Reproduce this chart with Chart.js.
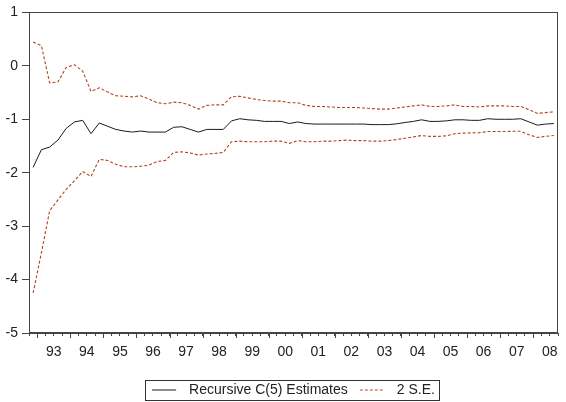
<!DOCTYPE html>
<html>
<head>
<meta charset="utf-8">
<script src="https://cdn.jsdelivr.net/npm/chart.js@4.4.1/dist/chart.umd.min.js"></script>
<style>
html,body{margin:0;padding:0;background:#ffffff;}
#wrap{width:566px;height:402px;}
</style>
</head>
<body>
<div id="wrap"><canvas id="c" width="566" height="402"></canvas></div>
<script>
const quarters = [
  "1992Q4",
  "1993Q1","1993Q2","1993Q3","1993Q4",
  "1994Q1","1994Q2","1994Q3","1994Q4",
  "1995Q1","1995Q2","1995Q3","1995Q4",
  "1996Q1","1996Q2","1996Q3","1996Q4",
  "1997Q1","1997Q2","1997Q3","1997Q4",
  "1998Q1","1998Q2","1998Q3","1998Q4",
  "1999Q1","1999Q2","1999Q3","1999Q4",
  "2000Q1","2000Q2","2000Q3","2000Q4",
  "2001Q1","2001Q2","2001Q3","2001Q4",
  "2002Q1","2002Q2","2002Q3","2002Q4",
  "2003Q1","2003Q2","2003Q3","2003Q4",
  "2004Q1","2004Q2","2004Q3","2004Q4",
  "2005Q1","2005Q2","2005Q3","2005Q4",
  "2006Q1","2006Q2","2006Q3","2006Q4",
  "2007Q1","2007Q2","2007Q3","2007Q4",
  "2008Q1","2008Q2","2008Q3"
];

const estimates = [
  -1.90,
  -1.57,-1.52,-1.39,-1.17,
  -1.05,-1.02,-1.27,-1.07,
  -1.13,-1.19,-1.22,-1.24,
  -1.22,-1.24,-1.24,-1.24,
  -1.15,-1.14,-1.19,-1.24,
  -1.19,-1.19,-1.19,-1.03,
  -0.99,-1.01,-1.02,-1.04,
  -1.04,-1.04,-1.08,-1.05,
  -1.08,-1.09,-1.09,-1.09,
  -1.09,-1.09,-1.09,-1.09,
  -1.10,-1.10,-1.10,-1.085,
  -1.06,-1.04,-1.01,-1.04,
  -1.04,-1.03,-1.01,-1.01,
  -1.02,-1.02,-0.99,-1.00,
  -1.00,-1.00,-0.99,-1.05,
  -1.11,-1.09,-1.08
];

const upperBand = [
  0.445,
  0.377,-0.32,-0.30,-0.03,
  0.02,-0.10,-0.48,-0.41,
  -0.49,-0.56,-0.57,-0.58,
  -0.56,-0.62,-0.69,-0.71,
  -0.68,-0.69,-0.74,-0.81,
  -0.74,-0.73,-0.73,-0.58,
  -0.57,-0.60,-0.63,-0.65,
  -0.66,-0.66,-0.69,-0.69,
  -0.74,-0.76,-0.76,-0.77,
  -0.78,-0.78,-0.78,-0.79,
  -0.80,-0.81,-0.81,-0.79,
  -0.77,-0.75,-0.73,-0.76,
  -0.76,-0.75,-0.73,-0.76,
  -0.76,-0.77,-0.75,-0.75,
  -0.75,-0.76,-0.76,-0.82,
  -0.89,-0.875,-0.86
];

const lowerBand = [
  -4.25,
  -3.50,-2.71,-2.51,-2.31,
  -2.15,-1.98,-2.07,-1.75,
  -1.77,-1.84,-1.89,-1.89,
  -1.88,-1.86,-1.79,-1.77,
  -1.62,-1.61,-1.63,-1.67,
  -1.65,-1.64,-1.62,-1.42,
  -1.41,-1.42,-1.42,-1.42,
  -1.41,-1.41,-1.45,-1.40,
  -1.42,-1.42,-1.41,-1.41,
  -1.40,-1.39,-1.40,-1.40,
  -1.41,-1.41,-1.40,-1.38,
  -1.355,-1.33,-1.305,-1.32,
  -1.32,-1.31,-1.27,-1.26,
  -1.255,-1.25,-1.23,-1.23,
  -1.23,-1.225,-1.225,-1.29,
  -1.34,-1.32,-1.305
];

const yearLabels = ["93","94","95","96","97","98","99","00","01","02","03","04","05","06","07","08"];
const yTicks = [-5,-4,-3,-2,-1,0,1];

const FONT = {family: "'Liberation Sans', Arial, Helvetica, sans-serif", size: 14};
const AXIS_COLOR = '#444444';
const TEXT_COLOR = '#222222';
const LINE_COLOR = '#1a1a1a';
const BAND_COLOR = '#b0461e';
const BAND_DASH = [3, 2];
const LEGEND_SHIFT = 13;

const toPoints = arr => arr.map((v, i) => ({x: i, y: v}));

function legendIcon(color, dash) {
  const c = document.createElement('canvas');
  c.width = 30; c.height = 3;
  const g = c.getContext('2d');
  g.strokeStyle = color;
  g.lineWidth = 1;
  g.setLineDash(dash);
  g.beginPath();
  g.moveTo(0, 1.5);
  g.lineTo(24, 1.5);
  g.stroke();
  return c;
}

const frameAndTicks = {
  id: 'frameAndTicks',
  afterDraw(chart) {
    const ctx = chart.ctx;
    const a = chart.chartArea;
    const xs = chart.scales.x;
    ctx.save();
    ctx.strokeStyle = AXIS_COLOR;
    ctx.lineWidth = 1;
    ctx.setLineDash([]);
    ctx.strokeRect(Math.round(a.left) + 0.5, Math.round(a.top) + 0.5,
                   Math.round(a.right - a.left) - 1, Math.round(a.bottom - a.top) - 1);
    ctx.beginPath();
    quarters.forEach((q, i) => {
      if (q.endsWith('Q1')) {
        const px = Math.round(xs.getPixelForValue(i - 0.5)) + 0.5;
        ctx.moveTo(px, a.bottom);
        ctx.lineTo(px, a.bottom + 5);
      }
    });
    ctx.stroke();
    const lg = chart.legend;
    if (lg && lg.legendHitBoxes && lg.legendHitBoxes.length) {
      const hb = lg.legendHitBoxes;
      const left = Math.min(...hb.map(h => h.left));
      const right = Math.max(...hb.map(h => h.left + h.width));
      const cy = hb[0].top + hb[0].height / 2;
      ctx.strokeStyle = '#333333';
      ctx.strokeRect(Math.round(left - 7) + 0.5, Math.round(cy - 10) + 0.5,
                     Math.round(right - left + 11), 20);
    }
    ctx.restore();
  }
};

const legendLayout = {
  id: 'legendLayout',
  beforeInit(chart) {
    const orig = chart.legend.fit;
    chart.legend.fit = function () {
      orig.call(this);
      this.height = 31;
    };
  },
  afterLayout(chart) {
    const lg = chart.legend;
    if (lg) { lg.left += LEGEND_SHIFT; lg.right += LEGEND_SHIFT; }
  }
};

const icons = [legendIcon(LINE_COLOR, []), legendIcon(BAND_COLOR, BAND_DASH)];

new Chart(document.getElementById('c'), {
  type: 'line',
  data: {
    datasets: [
      {
        label: 'Recursive C(5) Estimates',
        data: toPoints(estimates),
        borderColor: LINE_COLOR,
        borderWidth: 1,
        pointRadius: 0,
        tension: 0,
        fill: false
      },
      {
        label: '2 S.E.',
        data: toPoints(upperBand),
        borderColor: BAND_COLOR,
        borderWidth: 1.1,
        borderDash: BAND_DASH,
        pointRadius: 0,
        tension: 0,
        fill: false
      },
      {
        label: '2 S.E. (lower)',
        data: toPoints(lowerBand),
        borderColor: BAND_COLOR,
        borderWidth: 1.1,
        borderDash: BAND_DASH,
        pointRadius: 0,
        tension: 0,
        fill: false
      }
    ]
  },
  options: {
    responsive: false,
    animation: false,
    devicePixelRatio: 1,
    layout: {padding: {top: 12, right: 5, left: 0, bottom: 0}},
    scales: {
      x: {
        type: 'linear',
        min: -0.5,
        max: quarters.length - 0.5,
        afterBuildTicks: s => {
          s.ticks = quarters.map((q, i) => ({value: i - 0.5}))
            .concat([{value: quarters.length - 0.5}]);
        },
        afterFit: s => { s.height = 38; },
        ticks: {
          autoSkip: false,
          maxRotation: 0,
          minRotation: 0,
          padding: 8,
          color: TEXT_COLOR,
          font: FONT,
          callback: (v, idx) => {
            const q = quarters[idx];
            if (q && q.endsWith('Q3')) {
              const yl = q.slice(2, 4);
              return yearLabels.includes(yl) ? yl : '';
            }
            return '';
          }
        },
        grid: {drawOnChartArea: false, drawTicks: true, tickLength: 3, color: AXIS_COLOR},
        border: {display: true, color: AXIS_COLOR}
      },
      y: {
        min: -5,
        max: 1,
        afterBuildTicks: s => { s.ticks = yTicks.map(v => ({value: v})); },
        afterFit: s => { s.width = 29; },
        ticks: {color: TEXT_COLOR, font: FONT, padding: 4},
        grid: {drawOnChartArea: false, drawTicks: true, tickLength: 7, color: AXIS_COLOR},
        border: {display: true, color: AXIS_COLOR}
      }
    },
    plugins: {
      tooltip: {enabled: false},
      legend: {
        position: 'bottom',
        labels: {
          usePointStyle: true,
          pointStyleWidth: 30,
          padding: 12,
          color: TEXT_COLOR,
          font: FONT,
          filter: item => item.datasetIndex < 2,
          generateLabels: chart => {
            const items = Chart.defaults.plugins.legend.labels.generateLabels(chart);
            items.forEach(it => { it.pointStyle = icons[it.datasetIndex] || icons[1]; });
            return items;
          }
        }
      }
    }
  },
  plugins: [legendLayout, frameAndTicks]
});
</script>
</body>
</html>
